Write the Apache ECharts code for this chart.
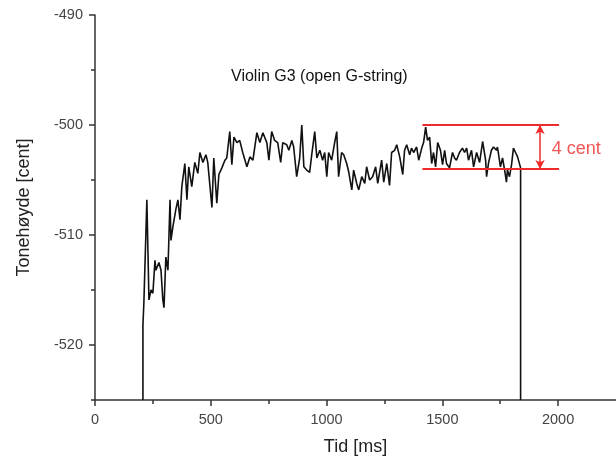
<!DOCTYPE html>
<html>
<head>
<meta charset="utf-8">
<script src="https://cdn.jsdelivr.net/npm/echarts@6/dist/echarts.min.js"></script>
<style>html,body{margin:0;padding:0;background:#fff}#c{width:616px;height:463px}</style>
</head>
<body>
<div id="c"></div>
<script>
var titleText = 'Violin G3 (open G-string)';
var xName = 'Tid [ms]';
var yName = 'Tonehøyde [cent]';
var xMajor = [0, 500, 1000, 1500, 2000];
var xMinor = [250, 750, 1250, 1750];
var yMajor = [-520, -510, -500, -490];
var yMinor = [-525, -515, -505, -495];

var timeMs = [207,207,211,224,233,242,250,259,263,276,285,293,298,306,315,324,328,336,349,358,367,375,388,397,405,418,431,444,453,466,479,487,505,513,526,535,548,561,569,582,591,600,613,625,638,656,669,682,699,712,725,742,751,763,776,789,802,811,828,837,850,858,871,884,893,902,914,927,936,949,958,971,983,992,1001,1009,1022,1035,1044,1052,1065,1074,1087,1096,1109,1117,1130,1139,1152,1165,1173,1186,1199,1212,1221,1238,1247,1260,1272,1281,1294,1303,1316,1329,1337,1346,1359,1367,1376,1389,1398,1411,1419,1428,1436,1445,1454,1462,1471,1480,1492,1501,1510,1518,1531,1544,1553,1561,1574,1587,1596,1605,1613,1626,1635,1648,1661,1674,1687,1691,1700,1712,1721,1734,1738,1751,1760,1769,1777,1781,1790,1799,1807,1816,1825,1838,1838];
var pitchCent = [-525,-518.2,-516.2,-506.8,-515.9,-515,-515.3,-512.3,-513.2,-512.5,-513.2,-515.9,-516.6,-512,-513.2,-506.8,-510.5,-509.3,-507.7,-506.8,-508.6,-505.6,-503.5,-506.8,-503.8,-505.6,-503.4,-504.4,-502.5,-503.4,-502.7,-503.4,-507.5,-503,-507.1,-504.5,-503.9,-503.2,-503,-500.6,-503.6,-501.1,-501.6,-501.4,-502.5,-503.8,-502.9,-503.2,-500.7,-501.6,-500.7,-501.6,-503.2,-500.6,-501.4,-501.6,-503.4,-501.6,-501.8,-502.3,-501.4,-502,-504.7,-503,-500,-503.8,-504.1,-504.3,-502.7,-500.6,-503,-502.3,-503.2,-502.5,-504.7,-502.5,-503.2,-501.6,-500.6,-504.7,-502.5,-502.7,-503.5,-504.3,-505.9,-504.1,-505.3,-505.9,-504.7,-505.3,-503.8,-505,-504.7,-503.8,-505.3,-503.2,-505.2,-503.5,-505.5,-502.5,-502.3,-501.8,-502.9,-504.5,-502.3,-501.8,-502.7,-502.1,-502.5,-502,-503.2,-502.1,-501.6,-500.2,-501.4,-501.1,-503.5,-502.5,-503.8,-501.6,-502.3,-503.6,-502.3,-503.5,-503.9,-502.5,-503,-503.2,-502.5,-502.1,-502.5,-502.1,-503.2,-502.3,-503.8,-502.5,-503.4,-501.5,-503.2,-504.7,-503.4,-502.3,-502,-502.3,-502,-503.8,-503,-504.1,-505.2,-504.1,-504.7,-503.6,-502.1,-502.5,-502.9,-503.9,-525];

var bandTop = -500;
var bandBottom = -504;
var bandStart = 1414;
var bandEnd = 2004;
var arrowTime = 1922;
var bandLabel = '4 cent';
var bandLabelPos = [1972, -502.2];

var series = timeMs.map(function (t, i) { return [t, pitchCent[i]]; });
var red = '#ee2a2a';
var font = 'Liberation Sans, Arial, sans-serif';
function plain(v) { return String(v); }

var chart = echarts.init(document.getElementById('c'), null, {renderer: 'canvas'});
chart.setOption({
  animation: false,
  backgroundColor: '#fff',
  title: {
    text: titleText, left: 226, top: 64,
    textStyle: {fontFamily: font, fontSize: 16, fontWeight: 'normal', color: '#111'}
  },
  grid: {left: 95, top: 15, width: 521.6, height: 385},
  xAxis: [{
    type: 'value', min: 0, max: 2250,
    name: xName, nameLocation: 'middle', nameGap: 38,
    nameTextStyle: {fontFamily: font, fontSize: 18, color: '#222'},
    splitLine: {show: false},
    axisLine: {show: true, onZero: false, lineStyle: {color: '#333', width: 1.5}},
    axisTick: {show: true, inside: false, length: 6, customValues: xMajor, lineStyle: {color: '#333', width: 1.5}},
    axisLabel: {customValues: xMajor, formatter: plain, margin: 12, fontFamily: font, fontSize: 14.5, color: '#444'}
  }, {
    type: 'value', min: 0, max: 2250, position: 'bottom',
    splitLine: {show: false},
    axisLine: {show: false},
    axisTick: {show: true, length: 4, customValues: xMinor, lineStyle: {color: '#333', width: 1.5}},
    axisLabel: {show: false}
  }],
  yAxis: [{
    type: 'value', min: -525, max: -490,
    name: yName, nameLocation: 'middle', nameGap: 62, nameRotate: 90,
    nameTextStyle: {fontFamily: font, fontSize: 18, color: '#222'},
    splitLine: {show: false},
    axisLine: {show: true, onZero: false, lineStyle: {color: '#333', width: 1.5}},
    axisTick: {show: true, length: 6, customValues: yMajor, lineStyle: {color: '#333', width: 1.5}},
    axisLabel: {customValues: yMajor, formatter: plain, margin: 12, fontFamily: font, fontSize: 14.5, color: '#444'}
  }, {
    type: 'value', min: -525, max: -490, position: 'left',
    splitLine: {show: false},
    axisLine: {show: false},
    axisTick: {show: true, length: 4, customValues: yMinor, lineStyle: {color: '#333', width: 1.5}},
    axisLabel: {show: false}
  }],
  series: [{
    type: 'line', data: series, showSymbol: false, symbol: 'none',
    lineStyle: {color: '#111', width: 1.6}, silent: true
  }, {
    type: 'line', data: [[bandStart, bandTop], [bandEnd, bandTop]], showSymbol: false, symbol: 'none',
    lineStyle: {color: red, width: 1.8}, silent: true
  }, {
    type: 'line', data: [[bandStart, bandBottom], [bandEnd, bandBottom]], showSymbol: false, symbol: 'none',
    lineStyle: {color: red, width: 1.8}, silent: true
  }, {
    type: 'scatter', data: [bandLabelPos], symbolSize: 0, silent: true,
    label: {show: true, position: 'right', distance: 0, formatter: bandLabel,
      fontFamily: font, fontSize: 18, color: red},
    markLine: {
      silent: true, animation: false,
      symbol: ['arrow', 'arrow'], symbolSize: [7, 9],
      label: {show: false},
      lineStyle: {color: red, width: 1.5, type: 'solid'},
      data: [[{coord: [arrowTime, bandTop]}, {coord: [arrowTime, bandBottom]}]]
    }
  }]
});
</script>
</body>
</html>
